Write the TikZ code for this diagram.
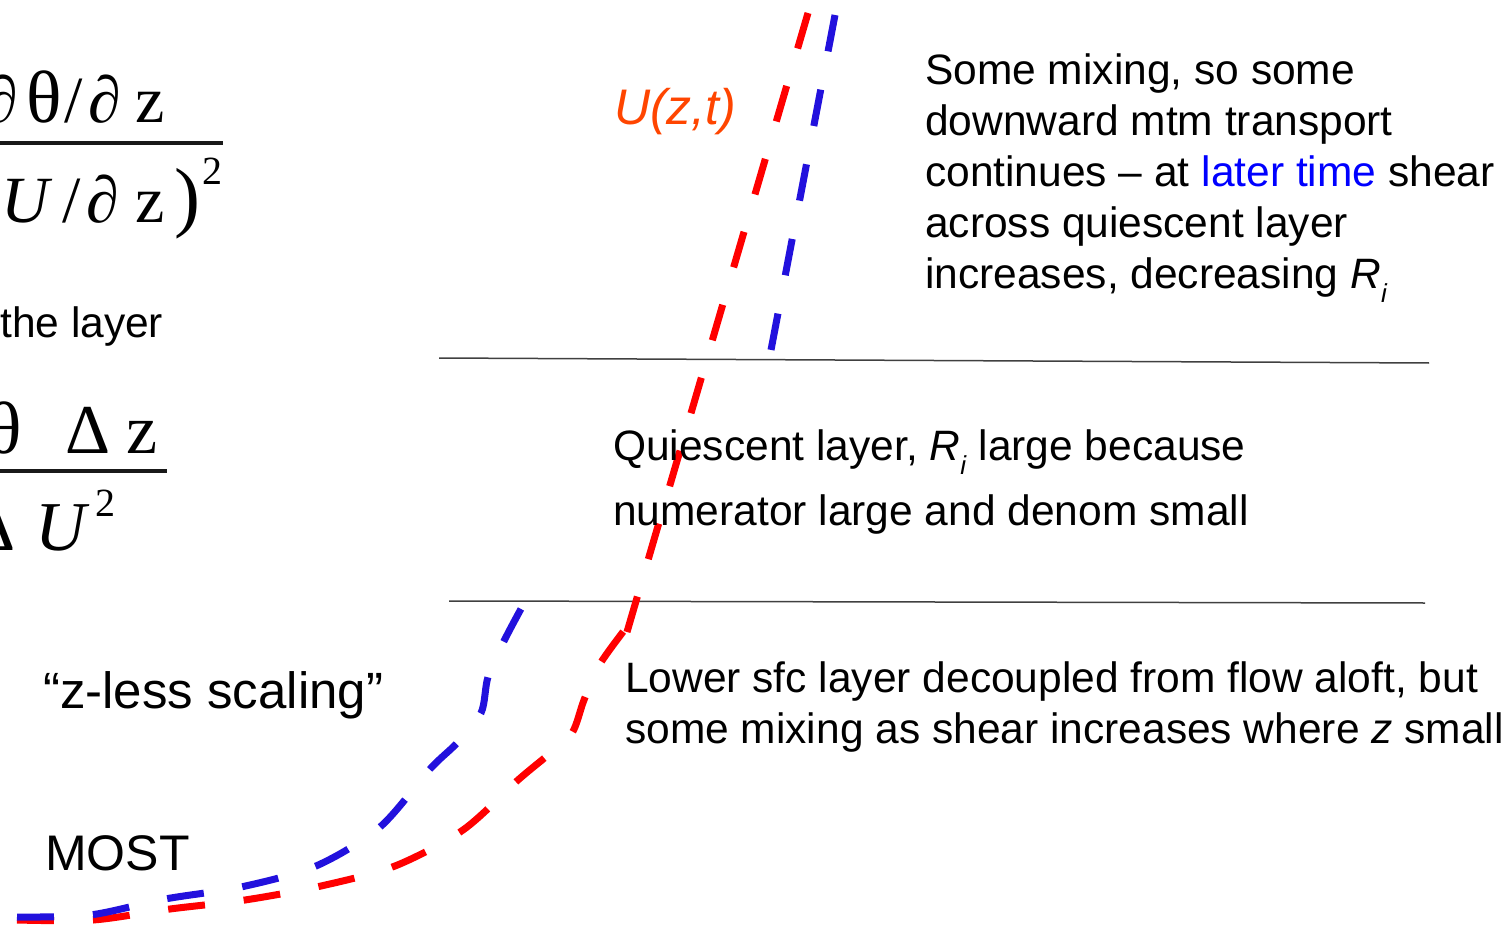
\documentclass[tikz,border=0pt]{standalone}
\usepackage{fontspec}
\setmainfont{Liberation Sans}
\newfontfamily\formfont{Liberation Serif}
\usetikzlibrary{positioning}
\definecolor{profred}{RGB}{255,0,0}
\definecolor{profblue}{RGB}{34,17,221}
\definecolor{laterblue}{RGB}{0,0,255}
\definecolor{uorange}{RGB}{255,69,0}
\newcommand{\subi}{\raisebox{-14pt}{\fontsize{26}{26}\selectfont\textit{i}}}
\newcommand{\Rich}{\textit{R}\subi}
\newcommand{\bigth}{{\fontsize{74}{74}\selectfont θ}}

\begin{document}
\begin{tikzpicture}[
    x=1pt, y=-1pt,
    note/.style={anchor=north west, inner sep=0, align=left,
                 font=\fontsize{42.5}{51}\selectfont},
    label/.style={anchor=base west, inner sep=0},
    formula/.style={inner sep=0, font=\formfont\fontsize{66}{66}\selectfont},
    supnum/.style={anchor=base west, inner sep=0, font=\formfont\fontsize{40}{40}\selectfont},
    fracbar/.style={line width=4pt, black!90},
    layerline/.style={line width=1.5pt, black!75},
    profile/.style={line width=7pt, dash pattern=on 37pt off 39pt}
]
\useasboundingbox (0,0) rectangle (1512,925);

% Richardson number formulas (cut at the left edge)
\node[formula, anchor=base east] (numA) at (165,123)
    {∂\hspace{8pt}\bigth\hspace{3pt}/\hspace{6pt}∂\hspace{14pt}z};
\node[formula, anchor=base west] (denA) at (1,223)
    {\textit{U}\hspace{10pt}/\hspace{6pt}∂\hspace{16pt}z\hspace{10pt}{\fontsize{78}{78}\selectfont)}};
\node[supnum] (supA) at (202,185) {2};
\draw[fracbar] (0,143) -- (223,143);

\node[formula, anchor=base east, font=\formfont\fontsize{70}{70}\selectfont] (numB) at (158,453)
    {\bigth\hspace{44pt}Δ\hspace{16pt}z};
\node[formula, anchor=base west, font=\formfont\fontsize{70}{70}\selectfont] (denB) at (-30,550)
    {Δ\hspace{20pt}\textit{U}};
\node[supnum] (supB) at (95,516) {2};
\draw[fracbar] (0,471) -- (167,471);

\node[label, font=\fontsize{42.5}{51}\selectfont] (layer) at (0,337) {the layer};
\node[label, font=\fontsize{51}{60}\selectfont] (zless) at (43,708) {“z-less scaling”};
\node[label, font=\fontsize{50}{60}\selectfont] (most) at (45,870) {MOST};
\node[label, font=\fontsize{50}{60}\selectfont\itshape, text=uorange] (uzt) at (614,125) {U(z,t)};

% layer boundaries
\coordinate (topL) at (439,358);
\coordinate (topR) at (1429,363);
\coordinate (botL) at (449,601);
\coordinate (botR) at (1425,603);
\draw[layerline] (topL) -- (topR);
\draw[layerline] (botL) -- (botR);

% wind profiles
\draw[profile, profred] (808,13) -- (627,632);
\draw[profile, profred] plot[smooth, tension=0.5] coordinates {
    (17,920) (93,920) (170,909) (245,900) (321,886) (395,866)
    (463,830) (518,780) (548,755) (572,733) (584,700) (600,664) (626,628)};
\draw[profile, profblue] (835,15) -- (771,350);
\draw[profile, profblue] plot[smooth, tension=0.5] coordinates {
    (17,917) (90,915) (165,899) (241,887) (316,866) (380,827)
    (430,769) (457,743) (481,713) (488,677) (504,641) (522,607)};

% descriptions
\node[note] (upper) at (925,48.3)
    {\strut Some mixing, so some\\downward mtm transport\\
     continues -- at {\color{laterblue}later time} shear\\
     across quiescent layer\\increases, decreasing \Rich};
\node[note, font=\fontsize{42.5}{65}\selectfont] (quiet) at (613,414.5)
    {\strut Quiescent layer, \Rich{} large because\\numerator large and denom small};
\node[note] (lower) at (625,656.8)
    {\strut Lower sfc layer decoupled from flow aloft, but\\
     some mixing as shear increases where \textit{z} small};
\end{tikzpicture}
\end{document}
